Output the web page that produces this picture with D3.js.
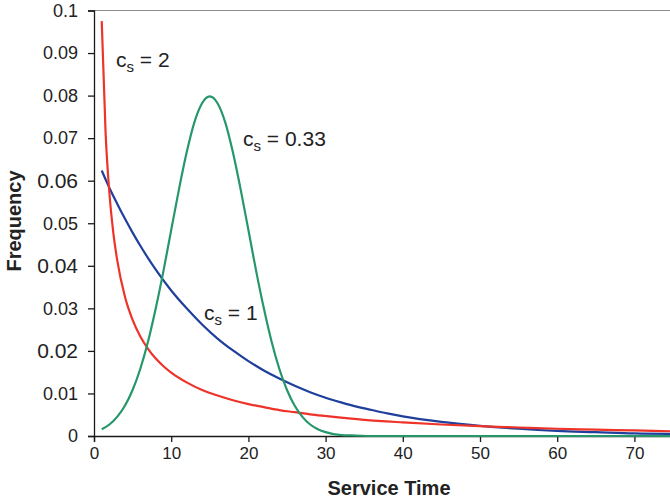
<!DOCTYPE html>
<html>
<head>
<meta charset="utf-8">
<script src="https://cdn.jsdelivr.net/npm/d3@7"></script>
<style>
  body { margin: 0; background: #fff; }
  svg { display: block; font-family: "Liberation Sans", Arial, sans-serif; }
</style>
</head>
<body>
<svg id="chart" width="670" height="503"></svg>
<script>
// values
const yTicks = [0, 0.01, 0.02, 0.03, 0.04, 0.05, 0.06, 0.07, 0.08, 0.09, 0.1];
const yTickLabels = ['0', '0.01', '0.02', '0.03', '0.04', '0.05', '0.06', '0.07', '0.08', '0.09', '0.1'];
const bigTickLabels = ['0.02', '0.04', '0.06'];
const xTicks = [0, 10, 20, 30, 40, 50, 60, 70];

// cs = 2
const cs2Time = [1, 1.5, 2, 2.5, 3, 4, 5, 6, 7, 8, 9, 10, 12, 14, 16, 18, 20, 22, 24, 26, 28, 30, 35, 40, 45, 50, 55, 60, 65, 70, 75];
const cs2Freq = [0.0975, 0.0713, 0.0570, 0.0478, 0.0414, 0.0328, 0.0273, 0.0234, 0.0205, 0.0182, 0.0164, 0.0149,
                 0.0126, 0.0108, 0.0095, 0.0084, 0.0075, 0.0068, 0.0061, 0.0056, 0.0051, 0.0047, 0.0038, 0.0032,
                 0.0027, 0.0023, 0.0020, 0.0017, 0.0015, 0.0013, 0.0011];

// cs = 1
const cs1Time = [1, 2, 3, 4, 5, 6, 8, 10, 12, 14, 16, 18, 20, 22, 24, 26, 28, 30, 32, 34, 36, 38, 40, 45, 50, 55, 60, 65, 70, 75];
const cs1Freq = [0.0624, 0.0583, 0.0546, 0.0511, 0.0478, 0.0447, 0.0391, 0.0342, 0.0300, 0.0262, 0.0229, 0.0201,
                 0.0176, 0.0154, 0.0135, 0.0118, 0.0103, 0.0090, 0.0079, 0.0069, 0.0061, 0.0053, 0.0046, 0.0033,
                 0.0024, 0.0017, 0.0012, 0.0009, 0.0006, 0.0005];

// cs = 0.33
const cs033Time = [1, 2, 3, 4, 5, 6, 7, 8, 9, 10, 11, 12, 13, 14, 15, 16, 17, 18, 19, 20, 21, 22, 23, 24, 25,
                   26, 27, 28, 29, 30, 32, 34, 36, 40, 50, 75];
const cs033Freq = [0.0016, 0.0027, 0.0045, 0.0071, 0.0108, 0.0158, 0.0222, 0.0300, 0.0388, 0.0484, 0.0579,
                   0.0666, 0.0737, 0.0782, 0.0798, 0.0782, 0.0737, 0.0666, 0.0579, 0.0484, 0.0388, 0.0300,
                   0.0222, 0.0158, 0.0108, 0.0071, 0.0045, 0.0027, 0.0016, 0.0009, 0.0002, 0.0001, 0, 0, 0, 0];

const svg = d3.select('#chart');
const plotLeft = 94, plotTop = 10.5, plotRight = 673, plotBottom = 436;

const x = d3.scaleLinear().domain([0, 75]).range([plotLeft, plotRight]);
const y = d3.scaleLinear().domain([0, 0.1]).range([plotBottom, plotTop]);

svg.append('clipPath').attr('id', 'plot-clip')
  .append('rect')
    .attr('x', plotLeft).attr('y', plotTop - 2)
    .attr('width', plotRight - plotLeft).attr('height', plotBottom - plotTop + 4);

// top border of plot area
svg.append('line')
    .attr('x1', plotLeft).attr('x2', 670)
    .attr('y1', plotTop).attr('y2', plotTop)
    .attr('stroke', '#8c8c8c')
    .attr('stroke-width', 1);

const yAxis = svg.append('g')
    .attr('transform', 'translate(' + plotLeft + ',0)')
    .call(d3.axisLeft(y).tickValues(yTicks).tickSize(6).tickPadding(10)
            .tickFormat((d, i) => yTickLabels[i]));

yAxis.selectAll('text')
    .attr('font-size', function () {
      return bigTickLabels.includes(d3.select(this).text()) ? '21px' : '18px';
    });

const xAxis = svg.append('g')
    .attr('transform', 'translate(0,' + plotBottom + ')')
    .call(d3.axisBottom(x).tickValues(xTicks).tickSize(6).tickPadding(5));

xAxis.selectAll('text').attr('font-size', '17px');

svg.selectAll('.domain, .tick line')
    .attr('stroke', '#1a1a1a')
    .attr('stroke-width', 1.3);
svg.selectAll('.tick text')
    .attr('fill', '#222')
    .attr('font-family', '"Liberation Sans", Arial, sans-serif');

// axis titles
svg.append('text')
    .attr('x', 389)
    .attr('y', 495)
    .attr('text-anchor', 'middle')
    .attr('font-size', '20px')
    .attr('font-weight', 'bold')
    .attr('fill', '#222')
    .text('Service Time');

svg.append('text')
    .attr('transform', 'translate(21,221) rotate(-90)')
    .attr('text-anchor', 'middle')
    .attr('font-size', '20px')
    .attr('font-weight', 'bold')
    .attr('fill', '#222')
    .text('Frequency');

// curves
const series = [
  { time: cs1Time, freq: cs1Freq, color: '#1f3f9c' },
  { time: cs2Time, freq: cs2Freq, color: '#ee3329' },
  { time: cs033Time, freq: cs033Freq, color: '#25976a' }
];

const line = d3.line()
    .x(d => x(d[0]))
    .y(d => y(d[1]))
    .curve(d3.curveMonotoneX);

svg.append('g')
    .attr('clip-path', 'url(#plot-clip)')
  .selectAll('path')
  .data(series)
  .enter()
  .append('path')
    .attr('fill', 'none')
    .attr('stroke', d => d.color)
    .attr('stroke-width', 2.2)
    .attr('d', d => line(d.time.map((t, i) => [t, d.freq[i]])));

// curve labels
const labels = [
  { x: 116, y: 67, value: '2' },
  { x: 243, y: 146, value: '0.33' },
  { x: 204, y: 320, value: '1' }
];

labels.forEach(l => {
  const t = svg.append('text')
      .attr('x', l.x)
      .attr('y', l.y)
      .attr('font-size', '21px')
      .attr('fill', '#222');
  t.append('tspan').text('c');
  t.append('tspan').attr('font-size', '15px').attr('dy', 5).text('s');
  t.append('tspan').attr('dy', -5).text(' = ' + l.value);
});
</script>
</body>
</html>
